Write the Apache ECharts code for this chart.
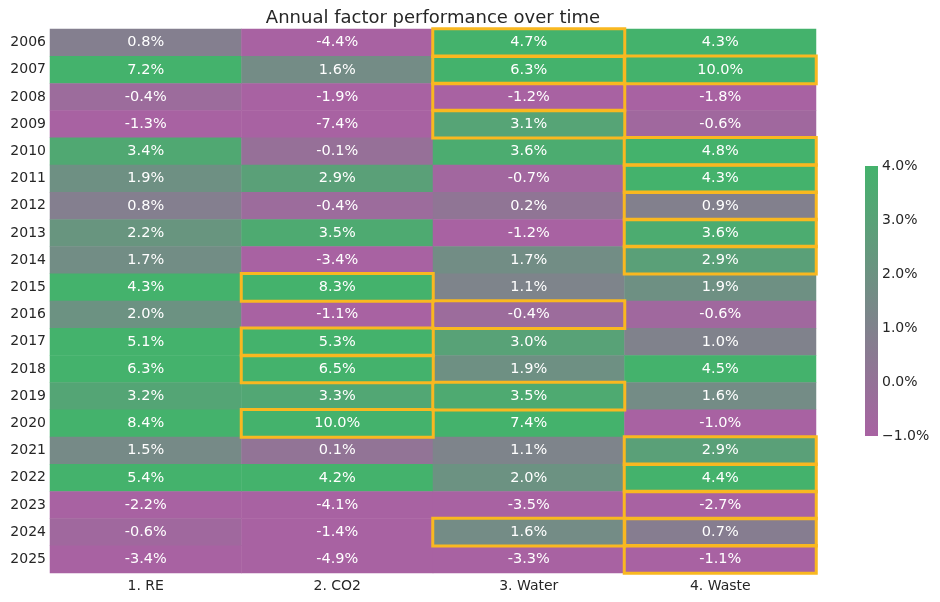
<!DOCTYPE html>
<html>
<head>
<meta charset="utf-8">
<script src="https://cdn.jsdelivr.net/npm/echarts@6/dist/echarts.min.js"></script>
<style>html,body{margin:0;padding:0;background:#fff}#c{width:940px;height:602px}</style>
</head>
<body>
<div id="c"></div>
<script>
var years = ['2006','2007','2008','2009','2010','2011','2012','2013','2014','2015','2016','2017','2018','2019','2020','2021','2022','2023','2024','2025'];
var factors = ['1. RE','2. CO2','3. Water','4. Waste'];
var reVals    = [0.8,7.2,-0.4,-1.3,3.4,1.9,0.8,2.2,1.7,4.3,2.0,5.1,6.3,3.2,8.4,1.5,5.4,-2.2,-0.6,-3.4];
var co2Vals   = [-4.4,1.6,-1.9,-7.4,-0.1,2.9,-0.4,3.5,-3.4,8.3,-1.1,5.3,6.5,3.3,10.0,0.1,4.2,-4.1,-1.4,-4.9];
var waterVals = [4.7,6.3,-1.2,3.1,3.6,-0.7,0.2,-1.2,1.7,1.1,-0.4,3.0,1.9,3.5,7.4,1.1,2.0,-3.5,1.6,-3.3];
var wasteVals = [4.3,10.0,-1.8,-0.6,4.8,4.3,0.9,3.6,2.9,1.9,-0.6,1.0,4.5,1.6,-1.0,2.9,4.4,-2.7,0.7,-1.1];
var reHighlight    = [];
var co2Highlight   = ['2015','2017','2018','2020'];
var waterHighlight = ['2006','2007','2008','2009','2016','2019','2024'];
var wasteHighlight = ['2007','2010','2011','2012','2013','2014','2021','2022','2023','2024','2025'];
var colorMin = -1, colorMax = 4;
var lowColor = '#a862a2', highColor = '#44b26c';

var allVals = [reVals, co2Vals, waterVals, wasteVals];
var allHl = [reHighlight, co2Highlight, waterHighlight, wasteHighlight];
var cells = [], boxes = [];
for (var f = 0; f < factors.length; f++) {
  for (var y = 0; y < years.length; y++) {
    cells.push([f, y, allVals[f][y]]);
    if (allHl[f].indexOf(years[y]) >= 0) boxes.push([f, y, allVals[f][y]]);
  }
}
var font = 'DejaVu Sans';
var chart = echarts.init(document.getElementById('c'), null, {renderer: 'canvas'});
chart.setOption({
  animation: false,
  backgroundColor: '#ffffff',
  title: {
    text: 'Annual factor performance over time',
    left: 428, top: 4, textAlign: 'center',
    textStyle: {fontFamily: font, fontSize: 18, fontWeight: 'normal', color: '#262626'}
  },
  grid: [
    {left: 50, right: 124, top: 29, bottom: 29},
    {left: 865, width: 13, top: 166, height: 270, show: true, borderWidth: 0,
     backgroundColor: new echarts.graphic.LinearGradient(0, 0, 0, 1, [
       {offset: 0, color: highColor}, {offset: 1, color: lowColor}])}
  ],
  xAxis: [
    {type: 'category', data: factors, gridIndex: 0, position: 'bottom',
     axisLine: {show: false}, axisTick: {show: false}, splitLine: {show: false},
     axisLabel: {fontFamily: font, fontSize: 14, color: '#262626', margin: 6}},
    {type: 'value', gridIndex: 1, show: false}
  ],
  yAxis: [
    {type: 'category', data: years, gridIndex: 0, inverse: true,
     axisLine: {show: false}, axisTick: {show: false}, splitLine: {show: false},
     axisLabel: {fontFamily: font, fontSize: 14, color: '#262626', margin: 4}},
    {type: 'value', gridIndex: 1, min: colorMin, max: colorMax, interval: 1, position: 'right',
     axisLine: {show: false}, axisTick: {show: false}, splitLine: {show: false},
     axisLabel: {fontFamily: font, fontSize: 14, color: '#262626', margin: 4,
       formatter: function (v) { return (v < 0 ? '\u2212' + Math.abs(v).toFixed(1) : v.toFixed(1)) + '%'; }}}
  ],
  visualMap: {
    type: 'continuous', min: colorMin, max: colorMax, seriesIndex: 0, show: false,
    inRange: {color: [lowColor, highColor]}
  },
  series: [
    {type: 'heatmap', xAxisIndex: 0, yAxisIndex: 0, data: cells,
     label: {show: true, fontFamily: font, fontSize: 14.5, color: '#ffffff',
       formatter: function (p) { return p.value[2].toFixed(1) + '%'; }},
     itemStyle: {borderWidth: 0}, emphasis: {disabled: true}},
    {type: 'heatmap', xAxisIndex: 0, yAxisIndex: 0, data: boxes, z: 5,
     label: {show: false},
     itemStyle: {color: 'rgba(0,0,0,0)', borderColor: '#f9b820', borderWidth: 3},
     emphasis: {disabled: true}},
    {type: 'scatter', xAxisIndex: 1, yAxisIndex: 1, data: [], silent: true}
  ]
});
</script>
</body>
</html>
